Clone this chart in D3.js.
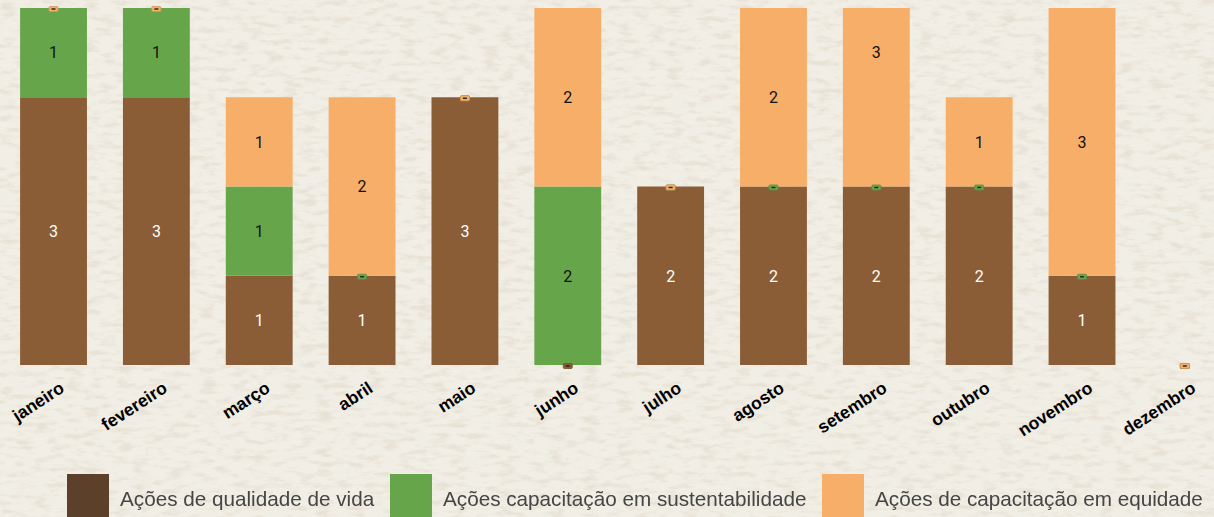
<!DOCTYPE html>
<html>
<head>
<meta charset="utf-8">
<script src="https://cdn.jsdelivr.net/npm/d3@7"></script>
<style>
  body { margin: 0; overflow: hidden; }
  svg { display: block; }
</style>
</head>
<body>
<svg width="1214" height="517"></svg>
<script>
var svg = d3.select('svg');
var svgWidth = +svg.attr('width');
var svgHeight = +svg.attr('height');

// Data
var months = ['janeiro', 'fevereiro', 'março', 'abril', 'maio', 'junho', 'julho',
              'agosto', 'setembro', 'outubro', 'novembro', 'dezembro'];
var seriesNames = ['Ações de qualidade de vida', 'Ações capacitação em sustentabilidade',
                   'Ações de capacitação em equidade'];
var qualidadeVida = [3, 3, 1, 1, 3, 0, 2, 2, 2, 2, 1, 0];
var sustentabilidade = [1, 1, 1, 0, 0, 2, 0, 0, 0, 0, 0, 0];
var equidade = [0, 0, 1, 2, 0, 2, 0, 2, 3, 1, 3, 0];
var yTicks = [0, 1, 2, 3, 4];

var barColors = ['#8a5d36', '#67a54b', '#f6ae68'];
var legendColors = ['#5d402a', '#67a54b', '#f6ae68'];
var labelColors = ['#ffffff', '#111111', '#111111'];

var table = months.map(function (m, i) {
  return { month: m, q: qualidadeVida[i], s: sustentabilidade[i], e: equidade[i] };
});
var keys = ['q', 's', 'e'];
var stacked = d3.stack().keys(keys)(table);

// paper background
var defs = svg.append('defs');
var paper = defs.append('filter').attr('id', 'paper')
  .attr('x', 0).attr('y', 0).attr('width', '100%').attr('height', '100%');
paper.append('feTurbulence').attr('type', 'fractalNoise')
  .attr('baseFrequency', '0.06 0.18').attr('numOctaves', 4).attr('seed', 11);
paper.append('feColorMatrix').attr('type', 'matrix')
  .attr('values', '0 0 0 0 0.70  0 0 0 0 0.62  0 0 0 0 0.48  0 0 0 -3.2 1.75');

var blur = defs.append('filter').attr('id', 'soft');
blur.append('feGaussianBlur').attr('stdDeviation', 0.7);

svg.append('rect').attr('width', svgWidth).attr('height', svgHeight).attr('fill', '#f1eee6');
svg.append('rect').attr('width', svgWidth).attr('height', svgHeight)
  .attr('filter', 'url(#paper)').attr('opacity', 0.35);

// scales
var xScale = d3.scaleBand().domain(months).range([2.1, 1236.3])
  .paddingInner(0.35).paddingOuter(0.175);
var yScale = d3.scaleLinear().domain([0, d3.max(yTicks)]).range([365, 8]);

defs.append('clipPath').attr('id', 'plot')
  .append('rect').attr('x', 0).attr('y', yScale(4)).attr('width', svgWidth).attr('height', yScale(0) - yScale(4));

var chartG = svg.append('g');
var barsG = chartG.append('g').attr('clip-path', 'url(#plot)');

stacked.forEach(function (layer, k) {
  barsG.append('g').selectAll('rect')
    .data(layer.filter(function (d) { return d[1] > d[0]; }))
    .enter().append('rect')
    .attr('x', function (d) { return xScale(d.data.month); })
    .attr('width', xScale.bandwidth())
    .attr('y', function (d) { return yScale(d[1]); })
    .attr('height', function (d) { return yScale(d[0]) - yScale(d[1]); })
    .attr('fill', barColors[k]);
});

// value labels
stacked.forEach(function (layer, k) {
  chartG.append('g').selectAll('text')
    .data(layer.filter(function (d) { return d[1] > d[0]; }))
    .enter().append('text')
    .attr('x', function (d) { return xScale(d.data.month) + xScale.bandwidth() / 2; })
    .attr('y', function (d) { return yScale((d[0] + d[1]) / 2); })
    .attr('dy', '0.36em')
    .attr('text-anchor', 'middle')
    .style('font-family', 'Roboto, sans-serif')
    .style('font-size', '16px')
    .attr('fill', labelColors[k])
    .text(function (d) { return d[1] - d[0]; });
});

// tiny markers for zero values
stacked.forEach(function (layer, k) {
  var g = chartG.append('g').selectAll('g')
    .data(layer.filter(function (d) { return d[1] === d[0]; }))
    .enter().append('g')
    .attr('transform', function (d) {
      return 'translate(' + [xScale(d.data.month) + xScale.bandwidth() / 2, yScale(d[0]) + 1] + ')';
    });
  g.append('rect').attr('x', -4.5).attr('y', -2.5).attr('width', 9).attr('height', 5)
    .attr('rx', 1).attr('fill', barColors[k])
    .attr('stroke', d3.color(barColors[k]).darker(0.4)).attr('stroke-width', 0.8);
  g.append('rect').attr('x', -2).attr('y', -0.7).attr('width', 4).attr('height', 1.4)
    .attr('fill', '#222');
});

// month labels
chartG.append('g').selectAll('text')
  .data(months)
  .enter().append('text')
  .attr('transform', function (d) {
    return 'translate(' + [xScale(d) + xScale.bandwidth() / 2 + 12, 391] + ')rotate(-33)';
  })
  .attr('text-anchor', 'end')
  .style('font-family', '"Liberation Sans", Arial, sans-serif')
  .style('font-weight', 'bold')
  .style('font-size', '17.5px')
  .attr('fill', '#000')
  .text(function (d) { return d; });

// legend
var legendX = [67, 390, 822];
var legend = svg.append('g').selectAll('g')
  .data(seriesNames)
  .enter().append('g')
  .attr('transform', function (d, i) { return 'translate(' + [legendX[i], 474] + ')'; });
legend.append('rect').attr('width', 42).attr('height', 43)
  .attr('fill', function (d, i) { return legendColors[i]; });
legend.append('text')
  .attr('x', 53).attr('y', 32)
  .style('font-family', '"Liberation Sans", Arial, sans-serif')
  .style('font-size', '20.7px')
  .attr('fill', '#454545')
  .attr('filter', 'url(#soft)')
  .text(function (d) { return d; });
</script>
</body>
</html>
